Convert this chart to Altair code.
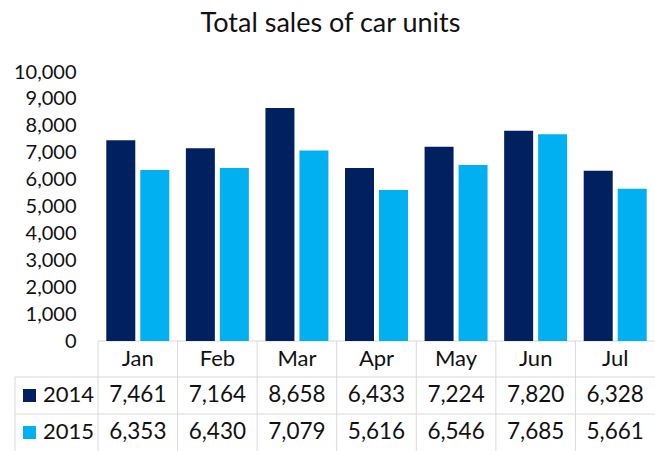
import altair as alt
import pandas as pd

months = ["Jan", "Feb", "Mar", "Apr", "May", "Jun", "Jul"]
years = ["2014", "2015"]
sales_2014 = [7461, 7164, 8658, 6433, 7224, 7820, 6328]
sales_2015 = [6353, 6430, 7079, 5616, 6546, 7685, 5661]
y_ticks = [0, 1000, 2000, 3000, 4000, 5000, 6000, 7000, 8000, 9000, 10000]
colors = ["#002060", "#00B0F0"]

FONT = "Lato"
GRID = "#D9D9D9"
TXT = "#111111"
W, H = 557, 269
ROW_Y = {"head": 287, "2014": 323, "2015": 360}

df = pd.DataFrame({
    "month": months * 2,
    "year": ["2014"] * len(months) + ["2015"] * len(months),
    "sales": sales_2014 + sales_2015,
})
df["label"] = df["sales"].map(lambda v: f"{v:,}")
mdf = pd.DataFrame({"month": months})
ydf = pd.DataFrame({"year": years})

xscale = alt.Scale(domain=months, paddingInner=0, paddingOuter=0)
cscale = alt.Scale(domain=years, range=colors)


def X(**kw):
    return alt.X("month:N", scale=xscale, axis=None, sort=months, **kw)


bars = alt.Chart(df).mark_bar().encode(
    x=X(),
    xOffset=alt.XOffset("year:N", scale=alt.Scale(domain=years, paddingInner=0.147, paddingOuter=0.244)),
    y=alt.Y("sales:Q", scale=alt.Scale(domain=[0, 10000], nice=False),
            axis=alt.Axis(values=y_ticks, format=",.0f", title=None, ticks=False, domain=False,
                          grid=False, labelFont=FONT, labelFontSize=20, labelColor=TXT,
                          labelPadding=22)),
    color=alt.Color("year:N", scale=cscale, legend=None),
)

layers = [bars]
layers.append(
    alt.Chart(mdf).mark_text(font=FONT, fontSize=22, color=TXT).encode(
        x=X(), y=alt.value(ROW_Y["head"]), text="month:N",
    )
)

for yr in years:
    layers.append(
        alt.Chart(df).transform_filter(alt.datum.year == yr).mark_text(
            font=FONT, fontSize=22.5, color=TXT).encode(
            x=X(), y=alt.value(ROW_Y[yr]), text="label:N",
        )
    )
    layers.append(
        alt.Chart(ydf).transform_filter(alt.datum.year == yr).mark_square(size=170, opacity=1).encode(
            x=alt.value(-68.5), y=alt.value(ROW_Y[yr] + 0.5),
            color=alt.Color("year:N", scale=cscale, legend=None),
        )
    )
    layers.append(
        alt.Chart(ydf).transform_filter(alt.datum.year == yr).mark_text(
            font=FONT, fontSize=22, color=TXT, align="left").encode(
            x=alt.value(-55), y=alt.value(ROW_Y[yr]), text="year:N",
        )
    )

vlines = alt.Chart(mdf).mark_rule(color=GRID, strokeWidth=1).encode(
    x=X(bandPosition=0),
    y=alt.value(H), y2=alt.value(H + 115),
)
hl = pd.DataFrame({"k": [0]})
rules = [
    alt.Chart(hl).mark_rule(color=GRID).encode(x=alt.value(0), x2=alt.value(W), y=alt.value(H)),
    alt.Chart(hl).mark_rule(color=GRID).encode(x=alt.value(-83), x2=alt.value(W), y=alt.value(305)),
    alt.Chart(hl).mark_rule(color=GRID).encode(x=alt.value(-83), x2=alt.value(W), y=alt.value(342)),
    alt.Chart(hl).mark_rule(color=GRID).encode(x=alt.value(-83), y=alt.value(305), y2=alt.value(H + 115)),
]

chart = alt.layer(vlines, *rules, *layers).properties(
    width=W, height=H,
    autosize=alt.AutoSizeParams(type="none"),
    padding={"left": 98, "top": 72, "right": 0, "bottom": 110},
    title=alt.TitleParams("Total sales of car units", font=FONT, fontSize=27, fontWeight="normal",
                          color=TXT, anchor="middle", frame="group", dx=-46, offset=24),
).configure_view(strokeWidth=0)

chart.save("out.html", embed_options={"renderer": "svg", "actions": False})
